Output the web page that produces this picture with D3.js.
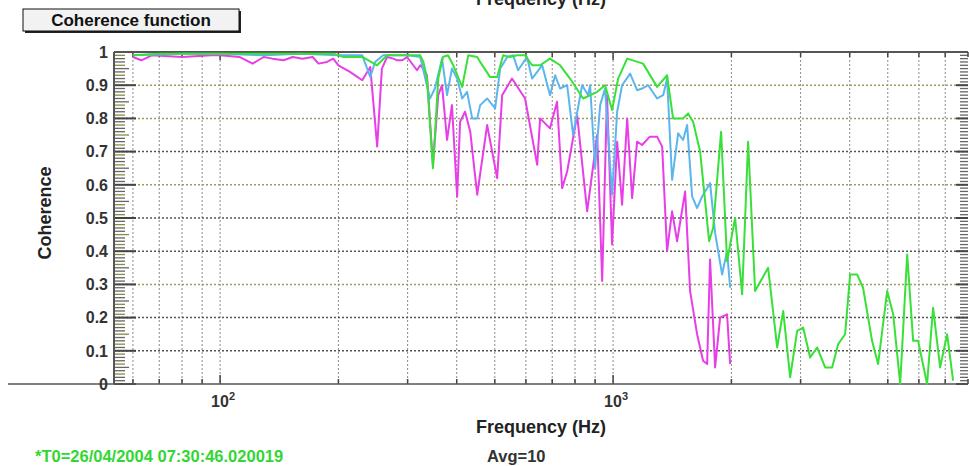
<!DOCTYPE html>
<html>
<head>
<meta charset="utf-8">
<script src="https://cdn.jsdelivr.net/npm/d3@7"></script>
<style>
  body { margin: 0; background: #fff; }
  svg { display: block; font-family: "Liberation Sans", Arial, sans-serif; font-weight: bold; }
</style>
</head>
<body>
<script>
// coherence traces: [frequency Hz, coherence]
const greenTrace = [
  [60,0.99],[70,0.995],[80,0.995],[90,0.995],[100,0.995],[120,0.995],[140,0.995],[160,0.995],
  [180,0.995],[194,0.995],[206,0.985],[230,0.985],[251,0.96],[266,0.99],[300,0.99],[323,0.99],
  [329,0.97],[336,0.92],[348,0.65],[359,0.92],[369,0.985],[380,0.99],[392,0.96],[413,0.895],
  [428,0.99],[451,0.985],[459,0.97],[486,0.925],[507,0.925],[525,0.99],[547,0.985],[570,0.99],
  [597,0.99],[622,0.96],[652,0.96],[691,0.98],[733,0.96],[777,0.92],[839,0.86],[911,0.88],
  [954,0.9],[994,0.825],[1030,0.92],[1086,0.98],[1192,0.965],[1294,0.895],[1372,0.93],[1421,0.8],
  [1507,0.8],[1552,0.815],[1598,0.79],[1665,0.7],[1715,0.55],[1755,0.43],[1797,0.47],[1883,0.76],
  [1950,0.37],[2044,0.5],[2130,0.27],[2206,0.73],[2298,0.28],[2480,0.35],[2615,0.11],[2709,0.22],
  [2822,0.02],[2940,0.16],[3045,0.17],[3172,0.08],[3305,0.11],[3464,0.05],[3609,0.05],[3738,0.12],
  [3894,0.15],[4010,0.33],[4177,0.33],[4326,0.29],[4560,0.13],[4724,0.06],[4982,0.28],[5161,0.21],
  [5377,0.0],[5602,0.39],[5801,0.13],[5973,0.13],[6295,0.0],[6520,0.23],[6794,0.05],[7078,0.15],
  [7332,0.01]
];

const blueTrace = [
  [60,0.99],[80,0.995],[100,0.995],[130,0.99],[160,0.995],[200,0.99],[230,0.99],[241,0.925],
  [248,0.97],[260,0.99],[300,0.99],[323,0.985],[342,0.86],[352,0.89],[367,0.98],[378,0.87],
  [389,0.95],[401,0.92],[413,0.86],[425,0.88],[438,0.8],[451,0.8],[459,0.84],[478,0.86],
  [501,0.83],[516,0.95],[538,0.985],[557,0.99],[573,0.945],[604,0.985],[622,0.92],[660,0.96],
  [691,0.87],[712,0.93],[733,0.89],[764,0.9],[791,0.75],[834,0.9],[864,0.87],[874,0.9],
  [900,0.65],[927,0.84],[954,0.89],[994,0.57],[1024,0.82],[1054,0.9],[1105,0.935],[1151,0.885],
  [1185,0.89],[1228,0.9],[1294,0.86],[1341,0.87],[1372,0.92],[1413,0.615],[1464,0.755],[1507,0.735],
  [1543,0.78],[1589,0.565],[1636,0.53],[1685,0.565],[1765,0.605],[1818,0.455],[1839,0.42],[1894,0.33],
  [1950,0.4],[1985,0.29]
];

const magentaTrace = [
  [60,0.985],[63,0.975],[67,0.99],[80,0.985],[95,0.99],[100,0.99],[112,0.985],[121,0.965],
  [129,0.985],[136,0.98],[145,0.975],[153,0.985],[162,0.98],[172,0.985],[178,0.965],[187,0.97],
  [194,0.98],[200,0.96],[214,0.94],[230,0.915],[241,0.955],[251,0.715],[258,0.95],[266,0.985],
  [276,0.98],[282,0.975],[291,0.975],[299,0.985],[317,0.945],[323,0.96],[329,0.95],[336,0.93],
  [348,0.66],[359,0.87],[367,0.9],[378,0.735],[389,0.84],[401,0.565],[408,0.79],[420,0.82],
  [433,0.76],[451,0.57],[478,0.78],[507,0.62],[522,0.87],[553,0.92],[597,0.86],[641,0.66],
  [652,0.8],[691,0.77],[720,0.85],[742,0.59],[764,0.64],[810,0.81],[859,0.52],[911,0.75],
  [938,0.31],[965,0.87],[994,0.42],[1024,0.73],[1054,0.54],[1086,0.8],[1118,0.56],[1151,0.73],
  [1185,0.72],[1240,0.745],[1294,0.745],[1333,0.715],[1372,0.4],[1413,0.52],[1455,0.43],[1525,0.58],
  [1570,0.28],[1636,0.15],[1694,0.07],[1735,0.06],[1765,0.375],[1818,0.05],[1872,0.2],[1950,0.21],
  [1985,0.06]
];

const yTickValues = [0,0.1,0.2,0.3,0.4,0.5,0.6,0.7,0.8,0.9,1];
const yTickLabels = ["0","0.1","0.2","0.3","0.4","0.5","0.6","0.7","0.8","0.9","1"];
const xMajorValues = [100, 1000];
const xMajorExp = ["2", "3"];
const lightGridRows = [0.3, 0.6, 0.8, 0.9];

const W = 969, H = 466;
const LEFT = 114, RIGHT = 968, TOP = 52, BOTTOM = 384;

const svg = d3.select("body").append("svg").attr("width", W).attr("height", H);

const x = d3.scaleLog().domain([53.7, 8000]).range([LEFT, RIGHT]);
const y = d3.scaleLinear().domain([0, 1]).range([BOTTOM, TOP]);

// grid
const xGridTicks = x.ticks().filter(function(t){ return x(t) > LEFT + 2 && x(t) < RIGHT - 2; });
svg.append("g").selectAll("line").data(xGridTicks).enter().append("line")
  .attr("x1", d => x(d)).attr("x2", d => x(d))
  .attr("y1", TOP).attr("y2", BOTTOM)
  .attr("stroke", "#8a8a8a").attr("stroke-width", 1).attr("stroke-dasharray", "2,2");

svg.append("g").selectAll("line").data(yTickValues.filter(v => v > 0 && v < 1)).enter().append("line")
  .attr("x1", LEFT).attr("x2", RIGHT)
  .attr("y1", d => y(d)).attr("y2", d => y(d))
  .attr("stroke", d => lightGridRows.indexOf(d) >= 0 ? "#9c9c60" : "#555")
  .attr("stroke-width", 1.5).attr("stroke-dasharray", "2,2");

// y minor / major ticks, left and right
const yMinor = d3.range(0, 101).map(i => i / 100);
const tickG = svg.append("g");
tickG.selectAll(".lt").data(yMinor).enter().append("line")
  .attr("x1", LEFT)
  .attr("x2", (d, i) => LEFT + (i % 10 === 0 ? 22 : (i % 5 === 0 ? 15 : 11)))
  .attr("y1", d => y(d)).attr("y2", d => y(d))
  .attr("stroke", (d, i) => i % 10 === 0 ? "#444" : (i % 3 === 0 ? "#8a8a40" : "#666"))
  .attr("stroke-width", (d, i) => i % 10 === 0 ? 2 : 1.3);
tickG.selectAll(".rt").data(yMinor).enter().append("line")
  .attr("x1", RIGHT)
  .attr("x2", (d, i) => RIGHT - (i % 10 === 0 ? 12 : 8))
  .attr("y1", d => y(d)).attr("y2", d => y(d))
  .attr("stroke", (d, i) => i % 10 === 0 ? "#444" : "#666")
  .attr("stroke-width", (d, i) => i % 10 === 0 ? 2 : 1.3);

// x ticks bottom and top
const xTicksAll = x.ticks().filter(t => x(t) >= LEFT && x(t) <= RIGHT);
tickG.selectAll(".bt").data(xTicksAll).enter().append("line")
  .attr("x1", d => x(d)).attr("x2", d => x(d))
  .attr("y1", BOTTOM).attr("y2", d => BOTTOM - (xMajorValues.indexOf(d) >= 0 ? 9 : 5))
  .attr("stroke", "#444").attr("stroke-width", 1.5);
tickG.selectAll(".tt").data(xTicksAll).enter().append("line")
  .attr("x1", d => x(d)).attr("x2", d => x(d))
  .attr("y1", TOP).attr("y2", d => TOP + (xMajorValues.indexOf(d) >= 0 ? 8 : 5))
  .attr("stroke", "#444").attr("stroke-width", 1.5);

// frame
svg.append("line").attr("x1", LEFT).attr("x2", RIGHT).attr("y1", TOP).attr("y2", TOP)
  .attr("stroke", "#555").attr("stroke-width", 2);
svg.append("line").attr("x1", LEFT).attr("x2", LEFT).attr("y1", TOP).attr("y2", BOTTOM)
  .attr("stroke", "#555").attr("stroke-width", 2);
svg.append("line").attr("x1", 8).attr("x2", RIGHT).attr("y1", BOTTOM).attr("y2", BOTTOM)
  .attr("stroke", "#555").attr("stroke-width", 1.6);

// traces
const line = d3.line().x(d => x(d[0])).y(d => y(d[1]));
[[magentaTrace, "#e83ee8"], [blueTrace, "#5cb6ee"], [greenTrace, "#38e038"]].forEach(function(s){
  svg.append("path").datum(s[0]).attr("d", line)
    .attr("fill", "none").attr("stroke", s[1]).attr("stroke-width", 2)
    .attr("stroke-linejoin", "round");
});

// y tick labels
svg.append("g").selectAll("text").data(yTickValues).enter().append("text")
  .attr("x", LEFT - 6).attr("y", d => y(d))
  .attr("dy", "0.36em").attr("text-anchor", "end")
  .attr("font-size", 16).attr("fill", "#333")
  .text((d, i) => yTickLabels[i]);

// x tick labels 10^n
const xl = svg.append("g").selectAll("text").data(xMajorValues).enter().append("text")
  .attr("x", d => x(d) - 9).attr("y", 407).attr("font-size", 16).attr("fill", "#333");
xl.append("tspan").text("10");
xl.append("tspan").attr("dy", -7).attr("font-size", 11).text((d, i) => xMajorExp[i]);

// axis titles
svg.append("text").attr("x", 541).attr("y", 433).attr("text-anchor", "middle")
  .attr("font-size", 18).attr("fill", "#222").text("Frequency (Hz)");
svg.append("text").attr("x", 541).attr("y", 5).attr("text-anchor", "middle")
  .attr("font-size", 18).attr("fill", "#222").text("Frequency (Hz)");
svg.append("text").attr("transform", "translate(51,213) rotate(-90)").attr("text-anchor", "middle")
  .attr("font-size", 18).attr("fill", "#222").text("Coherence");

// title box
svg.append("rect").attr("x", 25).attr("y", 11).attr("width", 216).attr("height", 22).attr("fill", "#222");
svg.append("rect").attr("x", 23).attr("y", 9).attr("width", 216).attr("height", 22)
  .attr("fill", "#f2f2f2").attr("stroke", "#111").attr("stroke-width", 1);
svg.append("text").attr("x", 131).attr("y", 26).attr("text-anchor", "middle")
  .attr("font-size", 17).attr("fill", "#111").text("Coherence function");

// footer
svg.append("text").attr("x", 35).attr("y", 462).attr("font-size", 16.5).attr("fill", "#33d633")
  .text("*T0=26/04/2004 07:30:46.020019");
svg.append("text").attr("x", 487).attr("y", 462).attr("font-size", 16.5).attr("fill", "#333")
  .text("Avg=10");
</script>
</body>
</html>
